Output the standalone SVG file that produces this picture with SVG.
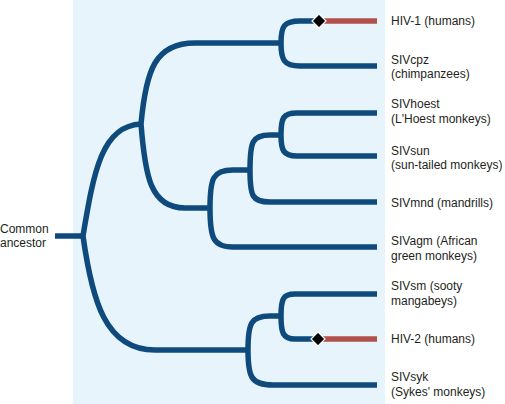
<svg xmlns="http://www.w3.org/2000/svg" width="505" height="404" viewBox="0 0 505 404">
<defs>
<style>
.br{fill:none;stroke:#0e4a7c;stroke-width:5.5;stroke-linecap:butt;stroke-linejoin:round}
.hv{fill:none;stroke:#b0504a;stroke-width:5.5}
.dm{fill:#000;stroke:#fff;stroke-width:1.2}
text{font-family:"Liberation Sans",Arial,Helvetica,sans-serif;font-size:12px;fill:#231f20}
</style>
</defs>
<rect x="0" y="0" width="505" height="404" fill="#ffffff"/>
<rect x="73" y="0" width="312" height="404" fill="#e8f4fc"/>
<g id="connectors">
<path class="br" d="M55,236 H83"/>
<path class="br" d="M83,236 C94,170 102,126 141,124"/>
<path class="br" d="M141,124 C146,70 155,43 195,43 H281"/>
<path class="br" d="M141,124 C145,175 150,208 185,208 H210"/>
<path class="br" d="M83,236 C92,300 105,350 155,350 H248"/>
<path class="br" d="M210,208 C210,178 213,170 233,170 H250"/>
<path class="br" d="M210,208 C210,238 213,247 233,247 H377"/>
<path class="br" d="M250,170 C250,142 252,135 270,135 H281"/>
<path class="br" d="M250,170 C250,196 252,202 270,202 H377"/>
<path class="br" d="M281,135 C281,118 283,113 297,113 H377"/>
<path class="br" d="M281,135 C281,150 283,156 297,156 H377"/>
<path class="br" d="M281,43 C281,26 284,21 300,21 H319"/>
<path class="hv" d="M319,21 H377"/>
<path class="br" d="M281,43 C281,60 284,66 300,66 H377"/>
<path class="br" d="M248,350 C248,323 251,316 270,316 H281"/>
<path class="br" d="M248,350 C248,377 251,385 273,385 H377"/>
<path class="br" d="M281,316 C281,299 283,294 295,294 H377"/>
<path class="br" d="M281,316 C281,333 283,339 295,339 H318"/>
<path class="hv" d="M318,339 H377"/>
<polygon class="dm" points="319,14 326,21 319,28 312,21"/>
<polygon class="dm" points="318,332 325,339 318,346 311,339"/>
</g>
<g id="root"><text x="0" y="233">Common</text><text x="0" y="247">ancestor</text></g>
<g id="hiv1"><text x="391" y="25">HIV-1 (humans)</text></g>
<g id="sivcpz"><text x="391" y="64">SIVcpz</text><text x="391" y="78">(chimpanzees)</text></g>
<g id="sivhoest"><text x="391" y="108">SIVhoest</text><text x="391" y="123">(L'Hoest monkeys)</text></g>
<g id="sivsun"><text x="391" y="155">SIVsun</text><text x="391" y="169">(sun-tailed monkeys)</text></g>
<g id="sivmnd"><text x="391" y="207">SIVmnd (mandrills)</text></g>
<g id="sivagm"><text x="391" y="245">SIVagm (African</text><text x="391" y="260">green monkeys)</text></g>
<g id="sivsm"><text x="391" y="290">SIVsm (sooty</text><text x="391" y="305">mangabeys)</text></g>
<g id="hiv2"><text x="391" y="343">HIV-2 (humans)</text></g>
<g id="sivsyk"><text x="391" y="381">SIVsyk</text><text x="391" y="396">(Sykes' monkeys)</text></g>
</svg>
